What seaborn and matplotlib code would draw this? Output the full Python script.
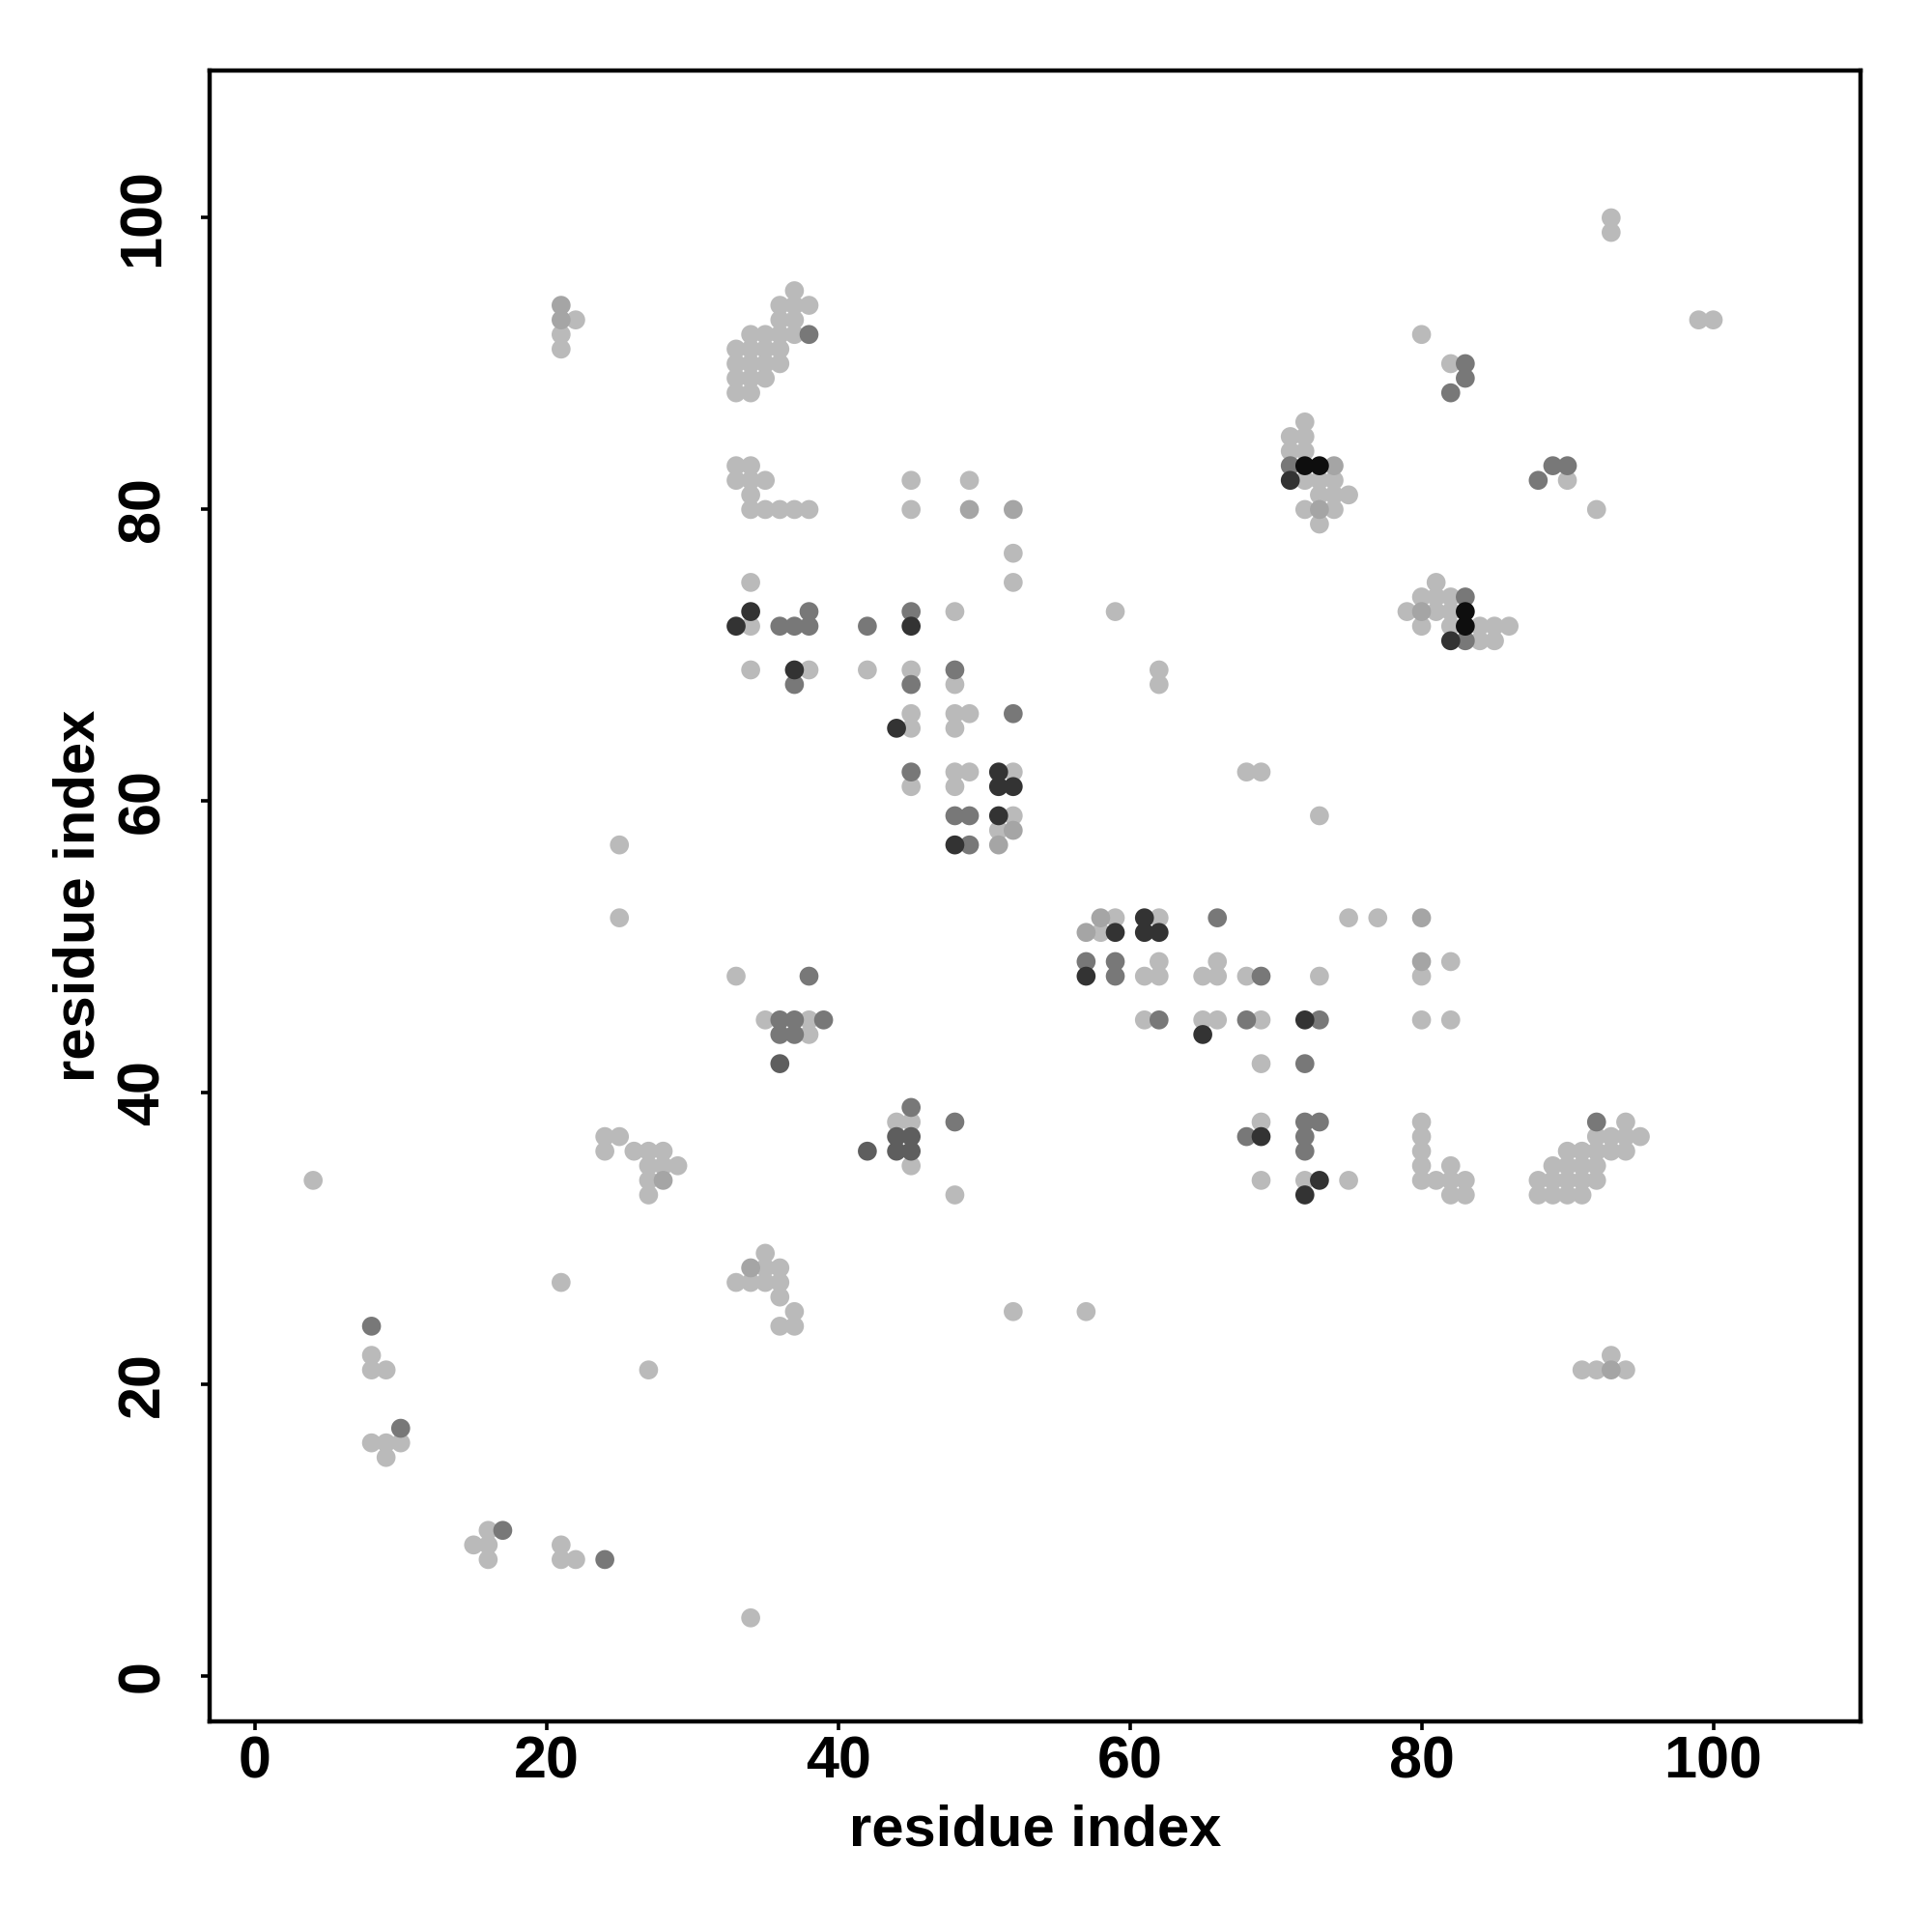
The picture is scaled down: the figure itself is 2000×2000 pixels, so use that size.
import numpy as np
import pandas as pd
import seaborn as sns
import matplotlib
matplotlib.use("Agg")
import matplotlib.pyplot as plt

# contacts (residue i, residue j) grouped by shade, light -> black
light = [(4, 34), (8, 22), (8, 21), (8, 16), (9, 21), (9, 16), (9, 15), (10, 16),
         (15, 9), (16, 10), (16, 9), (16, 8), (21, 92), (21, 91), (21, 27), (21, 9),
         (21, 8), (22, 93), (22, 8), (24, 37), (24, 36), (25, 57), (25, 52), (25, 37),
         (26, 36), (27, 36), (27, 35), (27, 34), (27, 33), (27, 21), (28, 36), (28, 35),
         (29, 35),
         (33, 91), (33, 90), (33, 89), (33, 88), (33, 83), (33, 82), (33, 48), (33, 27),
         (34, 92), (34, 91), (34, 90), (34, 89), (34, 88), (34, 83), (34, 82), (34, 81),
         (34, 80), (34, 75), (34, 72), (34, 69), (34, 27), (34, 4),
         (35, 92), (35, 91), (35, 90), (35, 89), (35, 82), (35, 80), (35, 45), (35, 29),
         (35, 28), (35, 27),
         (36, 94), (36, 93), (36, 92), (36, 91), (36, 90), (36, 80), (36, 28), (36, 27),
         (36, 26), (36, 24),
         (37, 95), (37, 94), (37, 93), (37, 92), (37, 80), (37, 25), (37, 24),
         (38, 94), (38, 80), (38, 69), (38, 45), (38, 44),
         (42, 69), (44, 38),
         (45, 82), (45, 80), (45, 69), (45, 66), (45, 65), (45, 61), (45, 38), (45, 35),
         (48, 73), (48, 68), (48, 66), (48, 65), (48, 62), (48, 61), (48, 33),
         (49, 82), (49, 66), (49, 62), (51, 58),
         (52, 77), (52, 75), (52, 62), (52, 59), (52, 25), (57, 25), (58, 51),
         (59, 73), (59, 52), (61, 48), (61, 45), (62, 69), (62, 68), (62, 52), (62, 49),
         (62, 48), (65, 48), (65, 45), (66, 49), (66, 48), (66, 45), (68, 62), (68, 48),
         (69, 62), (69, 45), (69, 42), (69, 38), (69, 34),
         (71, 85), (71, 84), (72, 86), (72, 85), (72, 84), (72, 82), (72, 80), (72, 34),
         (73, 82), (73, 81), (73, 79), (73, 59), (73, 48), (74, 82), (74, 81), (74, 80),
         (75, 81), (75, 52), (75, 34), (77, 52), (79, 73),
         (80, 92), (80, 74), (80, 72), (80, 48), (80, 45), (80, 38), (80, 37), (80, 36),
         (80, 35), (80, 34), (81, 75), (81, 74), (81, 73), (81, 34),
         (82, 90), (82, 74), (82, 73), (82, 72), (82, 49), (82, 45), (82, 35), (82, 34),
         (82, 33), (83, 34), (83, 33), (84, 72), (84, 71), (85, 72), (85, 71), (86, 72),
         (88, 34), (88, 33), (89, 35), (89, 34), (89, 33),
         (90, 82), (90, 36), (90, 35), (90, 34), (90, 33),
         (91, 36), (91, 35), (91, 34), (91, 33), (91, 21),
         (92, 80), (92, 37), (92, 36), (92, 35), (92, 34), (92, 21),
         (93, 100), (93, 99), (93, 37), (93, 36), (93, 22),
         (94, 38), (94, 37), (94, 36), (94, 21), (95, 37), (99, 93), (100, 93)]

medium = [(21, 94), (21, 93), (28, 34), (34, 28), (49, 80), (52, 80), (52, 58), (51, 57),
          (57, 51), (58, 52), (73, 80), (74, 83), (80, 73), (80, 52), (80, 49), (93, 21)]

gray = [(8, 24), (10, 17), (17, 10), (24, 8), (37, 68), (38, 92), (38, 73), (38, 72),
        (37, 72), (36, 72), (42, 72), (45, 73), (45, 68), (45, 62), (48, 69), (48, 59),
        (49, 59), (49, 57), (52, 66), (36, 45), (37, 45), (36, 44), (37, 44), (39, 45),
        (38, 48), (45, 39), (48, 38), (57, 49), (59, 49), (59, 48), (66, 52), (62, 45),
        (68, 45), (73, 45), (69, 48), (72, 42), (68, 37), (72, 38), (73, 38), (72, 37),
        (72, 36), (71, 83), (82, 88), (83, 90), (83, 89), (88, 82), (89, 83), (90, 83),
        (83, 74), (83, 71), (92, 38)]

dim = [(36, 42), (42, 36), (44, 37), (45, 37), (44, 36), (45, 36)]

dark = [(33, 72), (34, 73), (37, 69), (45, 72), (44, 65), (51, 62), (51, 61), (52, 61),
        (51, 59), (48, 57), (57, 48), (59, 51), (61, 51), (62, 51), (61, 52), (65, 44),
        (72, 45), (69, 37), (73, 34), (72, 33), (71, 82), (82, 71)]

black = [(72, 83), (73, 83), (83, 73), (83, 72)]

shades = {"light": "#bababa", "medium": "#a5a5a5", "gray": "#787878",
          "dim": "#5e5e5e", "dark": "#333333", "black": "#0e0e0e"}

groups = [("light", light), ("medium", medium), ("gray", gray),
          ("dim", dim), ("dark", dark), ("black", black)]
rows = []
for name, pts in groups:
    for i, j in pts:
        rows.append({"i": i, "j": j, "shade": name})
df = pd.DataFrame(rows)

sns.set_style("white")
plt.rcParams["font.family"] = ["Liberation Sans", "DejaVu Sans"]
plt.rcParams.update({"text.color": "black", "axes.labelcolor": "black",
                     "xtick.color": "black", "ytick.color": "black"})

fig = plt.figure(figsize=(10, 10), dpi=200)
ax = fig.add_axes([0.1085, 0.109, 0.8545, 0.8545])

sns.scatterplot(data=df, x="i", y="j", hue="shade", palette=shades,
                hue_order=list(shades.keys()), s=50, linewidth=0,
                legend=False, ax=ax)

ax.set_xlim(-3.1, 110.1)
ax.set_ylim(-3.1, 110.1)
ticks = [0, 20, 40, 60, 80, 100]
ax.set_xticks(ticks)
ax.set_yticks(ticks)
ax.set_xticklabels([str(t) for t in ticks], fontsize=22, fontweight="bold")
ax.set_yticklabels([str(t) for t in ticks], fontsize=22, fontweight="bold",
                   rotation=90, va="center")
ax.tick_params(axis="x", direction="out", length=3.3, width=1.3, pad=2,
               bottom=True, top=False, colors="black")
ax.tick_params(axis="y", direction="out", length=3.3, width=1.3, pad=11,
               left=True, right=False, colors="black")
for sp in ax.spines.values():
    sp.set_visible(True)
    sp.set_color("black")
    sp.set_linewidth(1.6)

ax.set_xlabel("residue index", fontsize=21.5, fontweight="bold", color="black")
ax.set_ylabel("residue index", fontsize=21.5, fontweight="bold", color="black")
ax.xaxis.set_label_coords(0.5, -0.05)
ax.yaxis.set_label_coords(-0.063, 0.5)

fig.savefig("out.png", dpi=200, facecolor="white")
